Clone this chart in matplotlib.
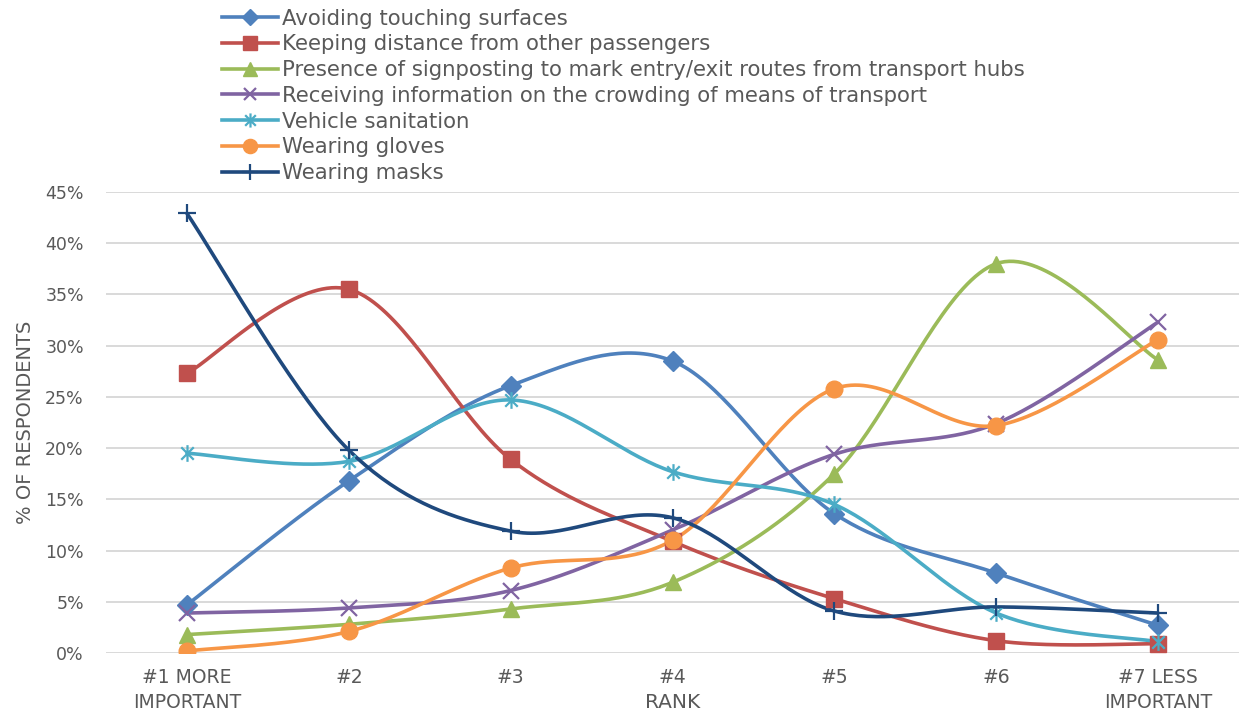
import numpy as np
import matplotlib
matplotlib.use("Agg")
import matplotlib.pyplot as plt
from matplotlib.lines import Line2D
from matplotlib.path import Path

# Ranking categories and share of respondents (%) per measure
categories = ["#1 MORE\nIMPORTANT", "#2", "#3", "#4", "#5", "#6", "#7 LESS\nIMPORTANT"]

avoiding_touching = [4.7, 16.8, 26.1, 28.5, 13.6, 7.8, 2.7]
keeping_distance = [27.3, 35.5, 18.9, 10.9, 5.3, 1.2, 0.9]
signposting = [1.8, 2.8, 4.3, 6.9, 17.5, 38.0, 28.6]
crowding_info = [3.9, 4.4, 6.1, 12.0, 19.4, 22.4, 32.3]
vehicle_sanitation = [19.5, 18.7, 24.7, 17.7, 14.5, 3.9, 1.1]
wearing_gloves = [0.2, 2.1, 8.3, 11.0, 25.8, 22.2, 30.6]
wearing_masks = [42.9, 19.8, 11.9, 13.2, 4.1, 4.5, 3.9]

series_labels = [
    "Avoiding touching surfaces",
    "Keeping distance from other passengers",
    "Presence of signposting to mark entry/exit routes from transport hubs",
    "Receiving information on the crowding of means of transport",
    "Vehicle sanitation",
    "Wearing gloves",
    "Wearing masks",
]
series_values = [avoiding_touching, keeping_distance, signposting, crowding_info,
                 vehicle_sanitation, wearing_gloves, wearing_masks]
colors = ["#4F81BD", "#C0504D", "#9BBB59", "#8064A2", "#4BACC6", "#F79646", "#1F497D"]

# asterisk marker: an "x" crossed by a vertical stroke
asterisk = Path([(-0.75, -0.75), (0.75, 0.75), (-0.75, 0.75), (0.75, -0.75), (0, -1), (0, 1)],
                [Path.MOVETO, Path.LINETO, Path.MOVETO, Path.LINETO, Path.MOVETO, Path.LINETO])
markers = ["D", "s", "^", "x", asterisk, "o", "+"]
msizes = [10, 12, 12, 11, 12, 12, 13]

TEXT = "#595959"
plt.rcParams["font.family"] = ["DejaVu Sans"]


def smooth(xs, ys, n=40):
    """Catmull-Rom style smoothing through every point (cubic Bezier segments)."""
    p = np.column_stack([xs, ys]).astype(float)
    out = []
    m = len(p)
    t = np.linspace(0, 1, n)[:, None]
    for i in range(m - 1):
        p0 = p[i - 1] if i > 0 else p[i]
        p1 = p[i]
        p2 = p[i + 1]
        p3 = p[i + 2] if i + 2 < m else p[i + 1]
        c1 = p1 + (p2 - p0) / 6.0
        c2 = p2 - (p3 - p1) / 6.0
        seg = ((1 - t) ** 3) * p1 + 3 * ((1 - t) ** 2) * t * c1 + 3 * (1 - t) * t ** 2 * c2 + t ** 3 * p2
        out.append(seg if i == 0 else seg[1:])
    s = np.vstack(out)
    return s[:, 0], s[:, 1]


fig = plt.figure(figsize=(12.39, 7.15), dpi=100)
ax = fig.add_axes([0.0856, 0.0867, 0.9144, 0.6448])

x = np.arange(len(categories))
handles = []
for vals, lab, col, mk, ms in zip(series_values, series_labels, colors, markers, msizes):
    sx, sy = smooth(x, vals)
    ax.plot(sx, sy, color=col, lw=2.6, solid_capstyle="round", zorder=3)
    line_mk = not isinstance(mk, str) or mk in ("x", "+")
    mew = 1.6 if line_mk else 1.0
    ax.plot(x, vals, linestyle="none", marker=mk, markersize=ms, color=col,
            markeredgecolor=col, markeredgewidth=mew, zorder=4)
    handles.append(Line2D([0], [0], color=col, lw=2.6, marker=mk, markersize=ms * 0.85,
                          markeredgecolor=col, markeredgewidth=mew))

ax.set_xlim(-0.5, len(categories) - 0.5)
ax.set_ylim(0, 45)
ax.set_yticks(np.arange(0, 46, 5))
ax.set_yticklabels([f"{v}%" for v in range(0, 46, 5)])
ax.set_xticks(x)
ax.set_xticklabels(categories, linespacing=1.35)
ax.grid(axis="y", color="#D9D9D9", lw=1.4)
ax.set_axisbelow(True)
for s in ax.spines.values():
    s.set_visible(False)
ax.tick_params(axis="y", length=0, labelsize=12.5, colors=TEXT, pad=16)
ax.tick_params(axis="x", length=0, labelsize=13.5, colors=TEXT, pad=11)

ax.set_ylabel("% OF RESPONDENTS", fontsize=14, color=TEXT, labelpad=7)
xl = ax.set_xlabel("RANK", fontsize=14.5, color=TEXT)
xl.set_verticalalignment("center")
ax.xaxis.set_label_coords(0.5, -0.108)

fig.legend(handles, series_labels, loc="upper left", bbox_to_anchor=(0.1792, 0.988),
           frameon=False, fontsize=15.3, handlelength=2.65, handletextpad=0.15,
           labelspacing=0.27, labelcolor=TEXT, borderaxespad=0, borderpad=0)

fig.savefig("out.png", dpi=100)
